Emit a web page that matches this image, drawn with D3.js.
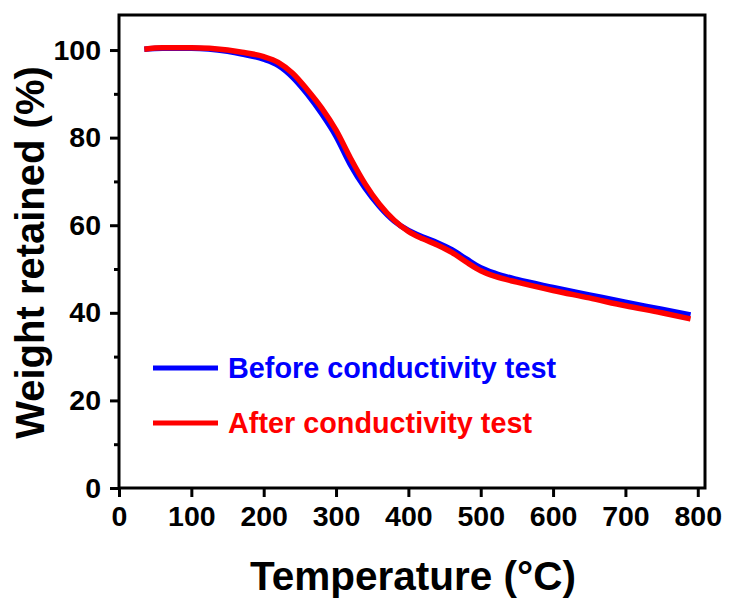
<!DOCTYPE html>
<html>
<head>
<meta charset="utf-8">
<script src="https://cdn.jsdelivr.net/npm/d3@7"></script>
<style>
  body { margin: 0; background: #fff; }
  text { font-family: "Liberation Sans", Arial, sans-serif; font-weight: bold; }
</style>
</head>
<body>
<svg id="chart" width="729" height="599"></svg>
<script>
// temperature (°C)
let temps = [35, 60, 100, 150, 170, 200, 220, 240, 260, 280, 300, 320, 340, 360, 380,
    400, 420, 440, 460, 480, 500, 520, 550, 600, 650, 700, 750, 790]
// weight retained (%) before conductivity test
let before = [100.2, 100.4, 100.4, 99.7, 99.1, 97.9, 96.5, 93.8, 90, 85.5, 80.3, 73.8, 68.5, 64.3, 61,
    58.8, 57.3, 56, 54.4, 52.3, 50.3, 49, 47.6, 45.8, 44.1, 42.4, 40.8, 39.5]
// after conductivity test
let after = [100.2, 100.5, 100.5, 100, 99.5, 98.5, 97.2, 94.7, 91, 86.8, 81.7, 75.3, 69.5, 64.8, 61.2,
    58.6, 56.9, 55.5, 53.8, 51.6, 49.6, 48.3, 47, 45.1, 43.4, 41.6, 40, 38.6]
let xTicks = [0, 100, 200, 300, 400, 500, 600, 700, 800]
let yTicks = [0, 20, 40, 60, 80, 100]
let yMinor = [10, 30, 50, 70, 90]
let seriesNames = ['Before conductivity test', 'After conductivity test']
let seriesColors = ['#0000ff', '#ff0000']

let svg = d3.select('#chart')
let mLeft = 119, mRight = 705, mTop = 15, mBottom = 488

let x = d3.scaleLinear().domain([0, 810]).range([mLeft, mRight])
let y = d3.scaleLinear().domain([0, 108]).range([mBottom, mTop])

// curves
let line = d3.line()
    .x(d => x(d[0]))
    .y(d => y(d[1]))
    .curve(d3.curveMonotoneX)

let series = [before, after]
series.forEach((s, i) => {
    svg.append('path')
        .datum(temps.map((t, j) => [t, s[j]]))
        .attr('fill', 'none')
        .attr('stroke', seriesColors[i])
        .attr('stroke-width', 5.5)
        .attr('stroke-linejoin', 'round')
        .attr('d', line)
})

// frame
svg.append('rect')
    .attr('x', mLeft)
    .attr('y', mTop)
    .attr('width', mRight - mLeft)
    .attr('height', mBottom - mTop)
    .attr('fill', 'none')
    .attr('stroke', '#000')
    .attr('stroke-width', 3)

// x axis
svg.append('g')
    .attr('transform', 'translate(0,' + mBottom + ')')
    .call(d3.axisBottom(x).tickValues(xTicks).tickSize(9).tickPadding(9))
// y axis
svg.append('g')
    .attr('transform', 'translate(' + mLeft + ',0)')
    .call(d3.axisLeft(y).tickValues(yTicks).tickSize(9).tickPadding(9))
svg.append('g')
    .attr('transform', 'translate(' + mLeft + ',0)')
    .call(d3.axisLeft(y).tickValues(yMinor).tickSize(5).tickFormat(''))

svg.selectAll('.domain').remove()
svg.selectAll('.tick line')
    .attr('stroke', '#000')
    .attr('stroke-width', 3)
svg.selectAll('.tick text')
    .attr('font-size', 28.5)
    .attr('fill', '#000')
    .style('font-family', '"Liberation Sans", Arial, sans-serif')
    .style('font-weight', 'bold')

// axis titles
svg.append('text')
    .attr('x', (mLeft + mRight) / 2 + 1)
    .attr('y', 590)
    .attr('text-anchor', 'middle')
    .attr('font-size', 40.5)
    .text('Temperature (°C)')

svg.append('text')
    .attr('transform', 'translate(44,' + ((mTop + mBottom) / 2 + 1) + ') rotate(-90)')
    .attr('text-anchor', 'middle')
    .attr('font-size', 40)
    .text('Weight retained (%)')

// legend
let legendY = [368, 423]
seriesNames.forEach((name, i) => {
    svg.append('line')
        .attr('x1', 153)
        .attr('x2', 218)
        .attr('y1', legendY[i])
        .attr('y2', legendY[i])
        .attr('stroke', seriesColors[i])
        .attr('stroke-width', 5)
    svg.append('text')
        .attr('x', 228)
        .attr('y', legendY[i] + 10)
        .attr('font-size', 28.8)
        .attr('fill', seriesColors[i])
        .text(name)
})
</script>
</body>
</html>
